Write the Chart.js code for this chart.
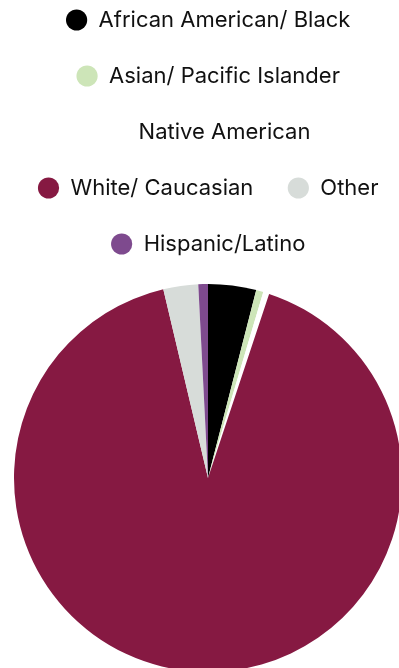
<!DOCTYPE html>
<html>
<head>
<meta charset="utf-8">
<script src="https://cdn.jsdelivr.net/npm/chart.js@4/dist/chart.umd.min.js"></script>
<style>
  html, body { margin: 0; padding: 0; background: #fff; overflow: hidden; }
  #wrap { position: absolute; left: 0; top: -25px; width: 416px; height: 716px; }
</style>
</head>
<body>
<div id="wrap"><canvas id="raceChart"></canvas></div>
<script>
const labels = [
    'African American/ Black',
    'Asian/ Pacific Islander',
    'Native American',
    'White/ Caucasian',
    'Other',
    'Hispanic/Latino'
];
const shares = [4.0, 0.6, 0.5, 91.2, 2.9, 0.8];
const colors = ['#000000', '#cde5b8', '#ffffff', '#861942', '#d7dcd9', '#7e4a8e'];

const ctx = document.getElementById('raceChart').getContext('2d');

const chart = new Chart(ctx, {
    type: 'pie',
    data: {
        labels: labels,
        datasets: [{
            data: shares,
            backgroundColor: colors,
            borderWidth: 0,
            radius: 194
        }]
    },
    options: {
        responsive: true,
        maintainAspectRatio: false,
        animation: false,
        plugins: {
            legend: {
                position: 'top',
                labels: {
                    usePointStyle: true,
                    pointStyle: 'circle',
                    boxHeight: 15,
                    padding: 34,
                    color: '#111',
                    font: { family: 'Inter', size: 22 }
                }
            },
            tooltip: { enabled: false }
        }
    }
});
</script>
</body>
</html>
